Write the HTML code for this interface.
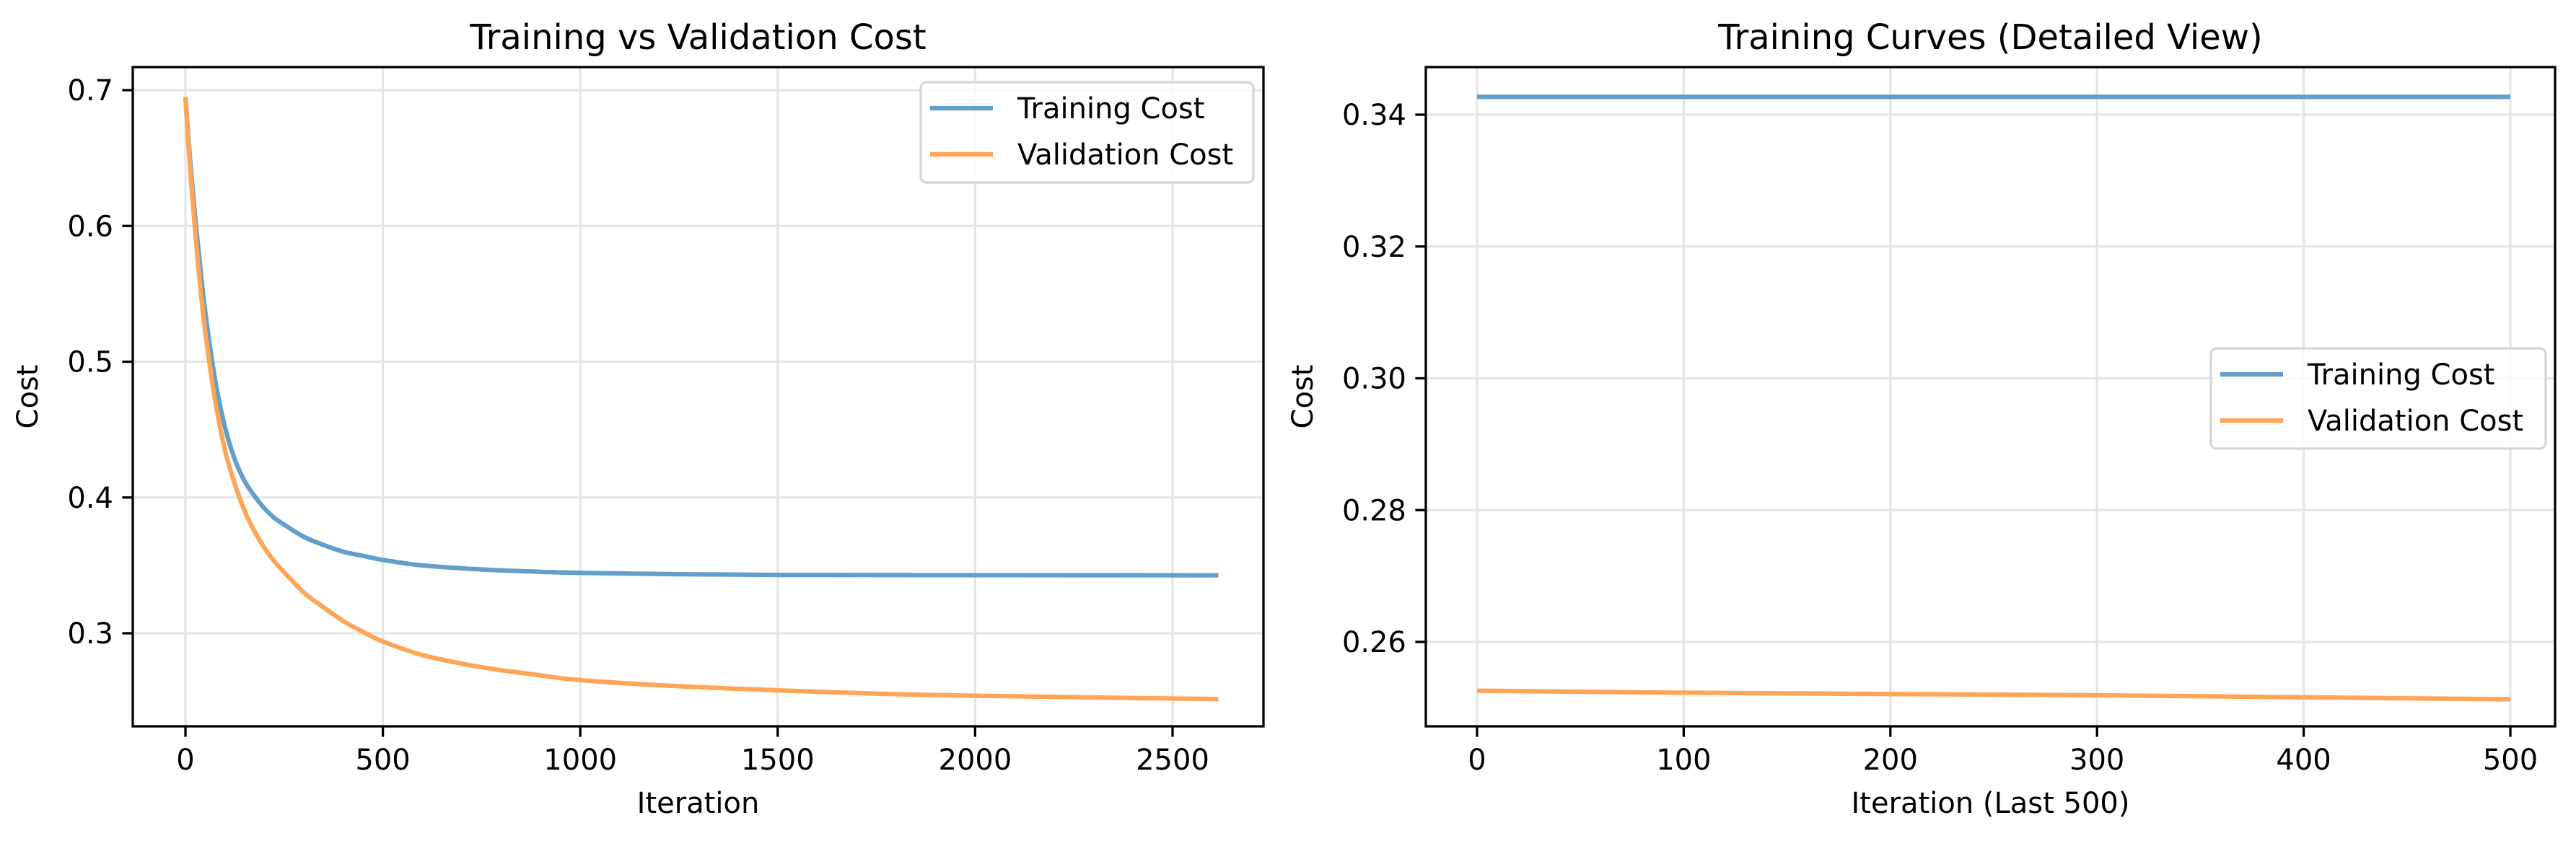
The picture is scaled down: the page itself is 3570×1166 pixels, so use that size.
<!DOCTYPE html>
<html><head><meta charset="utf-8"><style>
html,body{margin:0;padding:0;background:#fff;}
svg{display:block;font-family:"DejaVu Sans","Liberation Sans",sans-serif;}
</style></head><body>
<svg id="fig" width="3570" height="1166" viewBox="0 0 3570 1166" xmlns="http://www.w3.org/2000/svg"></svg>
<script>
// Left chart data
const leftIters = [0, 5, 10, 15, 25, 35, 50, 75, 100, 125, 150, 175, 200, 225, 250, 300, 350, 400, 450, 500, 600, 750, 875, 1000, 1250, 1500, 1750, 2000, 2616];
const leftTrain = [0.695, 0.675, 0.655, 0.638, 0.605, 0.577, 0.537, 0.487, 0.452, 0.428, 0.412, 0.401, 0.392, 0.385, 0.380, 0.371, 0.365, 0.360, 0.357, 0.354, 0.350, 0.347, 0.3455, 0.3445, 0.3435, 0.3430, 0.3429, 0.3428, 0.3427];
const leftVal = [0.695, 0.672, 0.650, 0.630, 0.595, 0.563, 0.522, 0.472, 0.435, 0.410, 0.390, 0.375, 0.363, 0.353, 0.345, 0.330, 0.319, 0.309, 0.301, 0.294, 0.284, 0.275, 0.270, 0.2655, 0.261, 0.258, 0.2555, 0.254, 0.2515];
const leftXTicks = [0, 500, 1000, 1500, 2000, 2500];
const leftYTicks = [0.3, 0.4, 0.5, 0.6, 0.7];
// Right chart data
const rightIters = [0, 100, 200, 300, 400, 500];
const rightTrain = [0.3427, 0.3427, 0.3427, 0.3427, 0.3427, 0.3427];
const rightVal = [0.2526, 0.2523, 0.2521, 0.2519, 0.2516, 0.2513];
const rightXTicks = [0, 100, 200, 300, 400, 500];
const rightYTicks = [0.26, 0.28, 0.30, 0.32, 0.34];
const rightYLabels = ["0.26", "0.28", "0.30", "0.32", "0.34"];

const NS = "http://www.w3.org/2000/svg";
const svg = document.getElementById('fig');
function mk(tag, attrs, parent) {
  const e = document.createElementNS(NS, tag);
  for (const k in attrs) e.setAttribute(k, attrs[k]);
  (parent || svg).appendChild(e);
  return e;
}
const BLUE = "#629fcb", ORANGE = "#ffa557", GRID = "#e6e6e6";
const FS = 40;

function drawChart(cfg) {
  const g = mk('g', {});
  
  
  const xs = v => cfg.x0 + (v - cfg.xa) / (cfg.xb - cfg.xa) * (cfg.x1 - cfg.x0);
  const ys = v => cfg.y0 + (v - cfg.ya) / (cfg.yb - cfg.ya) * (cfg.y1 - cfg.y0);
  cfg.xTicks.forEach(t => {
    const l = mk('line', {x1: xs(t), x2: xs(t), y1: cfg.top, y2: cfg.bottom, stroke: GRID, 'stroke-width': 3.3}, g);
    
    
  });
  cfg.yTicks.forEach(t => {
    const l = mk('line', {x1: cfg.left, x2: cfg.right, y1: ys(t), y2: ys(t), stroke: GRID, 'stroke-width': 3.3}, g);
    
    
  });
  const series = [[cfg.train, BLUE, 'training-cost-line'], [cfg.val, ORANGE, 'validation-cost-line']];
  series.forEach(([arr, col, nm]) => {
    const P = cfg.iters.map((it, i) => [xs(it), ys(arr[i])]);
    // smooth via Catmull-Rom
    let d = 'M' + P[0][0].toFixed(1) + ',' + P[0][1].toFixed(1);
    for (let i = 0; i < P.length - 1; i++) {
      const p0 = P[Math.max(0, i - 1)], p1 = P[i], p2 = P[i + 1], p3 = P[Math.min(P.length - 1, i + 2)];
      const c1x = p1[0] + (p2[0] - p0[0]) / 6, c1y = p1[1] + (p2[1] - p0[1]) / 6;
      const c2x = p2[0] - (p3[0] - p1[0]) / 6, c2y = p2[1] - (p3[1] - p1[1]) / 6;
      d += ` C${c1x.toFixed(1)},${c1y.toFixed(1)} ${c2x.toFixed(1)},${c2y.toFixed(1)} ${p2[0].toFixed(1)},${p2[1].toFixed(1)}`;
    }
    const p = mk('path', {d: d, fill: 'none', stroke: col, 'stroke-width': 6.25, 'stroke-linejoin': 'round'}, g);
    
    
  });
  const fr = mk('rect', {x: cfg.left, y: cfg.top, width: cfg.right - cfg.left, height: cfg.bottom - cfg.top, fill: 'none', stroke: '#000', 'stroke-width': 3.3}, g);
  
  
  cfg.xTicks.forEach(t => {
    mk('line', {x1: xs(t), x2: xs(t), y1: cfg.bottom, y2: cfg.bottom + 14.6, stroke: '#000', 'stroke-width': 3.3}, g);
    const tx = mk('text', {x: xs(t), y: cfg.bottom + 60, 'font-size': FS, 'text-anchor': 'middle', fill: '#000'}, g);
    tx.textContent = String(t);
    
    
  });
  cfg.yTicks.forEach((t, i) => {
    mk('line', {x1: cfg.left - 14.6, x2: cfg.left, y1: ys(t), y2: ys(t), stroke: '#000', 'stroke-width': 3.3}, g);
    const tx = mk('text', {x: cfg.left - 27, y: ys(t) + 14, 'font-size': FS, 'text-anchor': 'end', fill: '#000'}, g);
    tx.textContent = cfg.yLabels ? cfg.yLabels[i] : t.toFixed(1);
    
    
  });
  const ti = mk('text', {x: (cfg.left + cfg.right) / 2, y: 68, 'font-size': 48, 'text-anchor': 'middle', fill: '#000'}, g);
  ti.textContent = cfg.title;
  
  
  const xl = mk('text', {x: (cfg.left + cfg.right) / 2, y: 1127, 'font-size': FS, 'text-anchor': 'middle', fill: '#000'}, g);
  xl.textContent = cfg.xlabel;
  
  
  const yl = mk('text', {x: 0, y: 0, 'font-size': FS, 'text-anchor': 'middle', fill: '#000', transform: `translate(${cfg.ylx},${(cfg.top + cfg.bottom) / 2}) rotate(-90)`}, g);
  yl.textContent = 'Cost';
  
  
  const L = cfg.legend;
  const lg = mk('g', {}, g);
  
  
  mk('rect', {x: L.x, y: L.y, width: L.w, height: L.h, rx: 8, fill: '#fff', 'fill-opacity': 0.8, stroke: '#d6d6d6', 'stroke-width': 3.3}, lg);
  [['Training Cost', BLUE, L.y + 36], ['Validation Cost', ORANGE, L.y + 100]].forEach(([lab, col, cy]) => {
    const e = mk('g', {}, lg);
    
    
    mk('line', {x1: L.x + 13, x2: L.x + 100, y1: cy, y2: cy, stroke: col, 'stroke-width': 6.25}, e);
    const t = mk('text', {x: L.x + 134, y: cy + 14, 'font-size': FS, fill: '#000'}, e);
    t.textContent = lab;
  });
}

drawChart({name: 'training-vs-validation-chart', iters: leftIters, train: leftTrain, val: leftVal,
  xTicks: leftXTicks, yTicks: leftYTicks,
  left: 184, right: 1751, top: 93, bottom: 1007,
  xa: 0, xb: 2500, x0: 257, x1: 1625, ya: 0.3, yb: 0.7, y0: 878, y1: 125,
  title: 'Training vs Validation Cost', xlabel: 'Iteration', ylx: 52,
  legend: {x: 1276, y: 114, w: 461, h: 139}});
drawChart({name: 'detailed-view-chart', iters: rightIters, train: rightTrain, val: rightVal,
  xTicks: rightXTicks, yTicks: rightYTicks, yLabels: rightYLabels,
  left: 1976, right: 3541, top: 93, bottom: 1007,
  xa: 0, xb: 500, x0: 2047, x1: 3479, ya: 0.26, yb: 0.34, y0: 890, y1: 159,
  title: 'Training Curves (Detailed View)', xlabel: 'Iteration (Last 500)', ylx: 1819,
  legend: {x: 3064, y: 483, w: 464, h: 139}});
</script>
</body></html>
